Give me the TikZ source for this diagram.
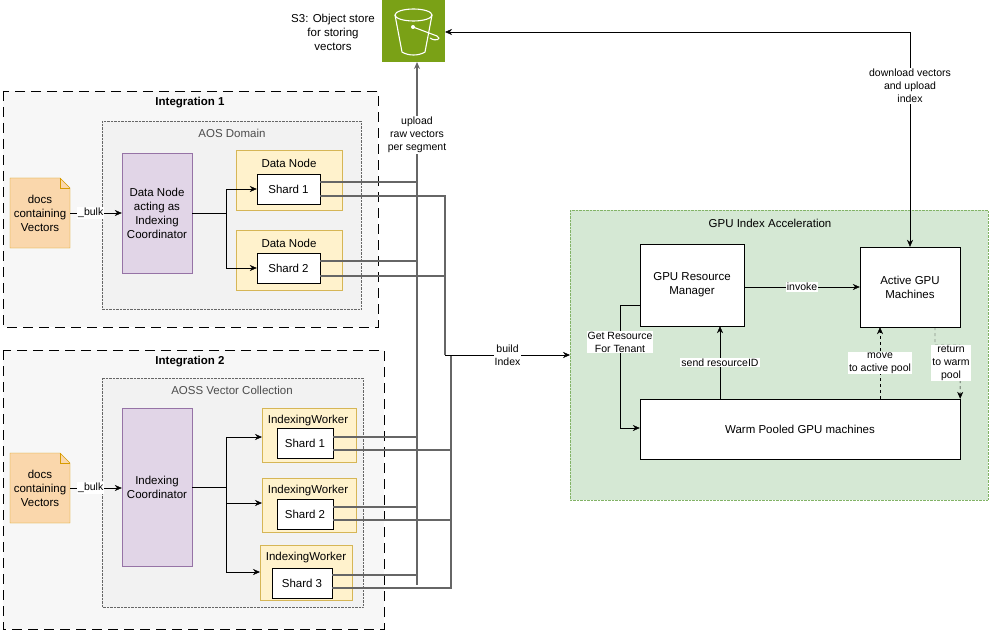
\documentclass[tikz,border=0pt]{standalone}
\usepackage{fontspec}
\setmainfont{Liberation Sans}
\usetikzlibrary{arrows.meta}
\definecolor{docf}{HTML}{FAD7AC}\definecolor{docs}{HTML}{D79B00}
\definecolor{purf}{HTML}{E1D5E7}\definecolor{purs}{HTML}{9673A6}
\definecolor{yelf}{HTML}{FFF2CC}\definecolor{yels}{HTML}{D6B656}
\definecolor{grnf}{HTML}{D5E8D4}\definecolor{grns}{HTML}{82B366}
\definecolor{s3g}{HTML}{7AA116}\definecolor{ln}{HTML}{666666}
\begin{document}
\begin{tikzpicture}[x=1pt,y=-1pt,font=\fontsize{11.5}{14}\selectfont,
  box/.style={draw,fill=white,align=center},
  lbl/.style={fill=white,inner sep=1pt,align=center,font=\fontsize{10.5}{13}\selectfont},
  arr/.style={-{Stealth[length=7pt,width=6pt]}},
  gl/.style={draw=ln,line width=1.2pt}]
\useasboundingbox (0,0) rectangle (992,631);
% integration boxes
\draw[dash pattern=on 10pt off 6pt,fill=black!3] (3,91) rectangle (378,327);
\node[font=\fontsize{11.5}{13}\selectfont\bfseries] (i1) at (190,103) {Integration 1};
\draw[densely dotted,draw=black!60,fill=black!5] (102,121) rectangle (361,309);
\node[text=black!70] (aos) at (232,133) {AOS Domain};
\draw[dash pattern=on 10pt off 6pt,fill=black!3] (3,350) rectangle (384,629);
\node[font=\fontsize{11.5}{13}\selectfont\bfseries] (i2) at (190,362) {Integration 2};
\draw[densely dotted,draw=black!60,fill=black!5] (102,378) rectangle (363,607);
\node[text=black!70] (aoss) at (232,390) {AOSS Vector Collection};
% GPU area
\draw[densely dotted,draw=grns,fill=grnf] (570,210) rectangle (988,500);
\node (gpa) at (770,223) {GPU Index Acceleration};
% S3
\fill[s3g] (382,0) rectangle (445,62);
\draw[white,line width=1.1pt] (395,15) -- (402,52) .. controls (408,56) and (419,56) .. (425,52) -- (432,15);
\draw[white,line width=1.1pt] (413.5,15) ellipse (18.5 and 6);
\draw[white,line width=1.1pt] (413,27) -- (437,36) .. controls (442,39) and (436,42) .. (430,38);
\fill[white] (413,27) circle (2);
\node (s3) at (413.5,31) {};
\node[align=center] (s3l) at (333,32) {S3: Object store\\for storing\\vectors};
% docs
\foreach \n/\y in {d1/178,d2/453}{
 \draw[docs,fill=docf] (10,\y) -- (60,\y) -- (70,\y+10) -- (70,\y+70) -- (10,\y+70) -- cycle;
 \draw[docs] (60,\y) -- (60,\y+10) -- (70,\y+10);
 \node[align=center] (\n) at (40,\y+35) {docs\\containing\\Vectors};
 \coordinate (\n r) at (70,\y+35);}
% coordinators
\node[draw=purs,fill=purf,minimum width=70pt,minimum height=120pt,align=center] (c1) at (157,213) {Data Node\\acting as\\Indexing\\Coordinator};
\node[draw=purs,fill=purf,minimum width=70pt,minimum height=158pt,align=center] (c2) at (157,487) {Indexing\\Coordinator};
% data nodes
\draw[yels,fill=yelf] (236,150) rectangle (342,210); \node (dn1) at (289,163) {Data Node};
\draw[yels,fill=yelf] (236,230) rectangle (342,290); \node (dn2) at (289,243) {Data Node};
\node[box,minimum width=63pt,minimum height=30pt] (s1) at (288.5,189) {Shard 1};
\node[box,minimum width=63pt,minimum height=30pt] (s2) at (288.5,268) {Shard 2};
\draw[yels,fill=yelf] (262,408) rectangle (356,462); \node (w1) at (308,421) {IndexingWorker};
\draw[yels,fill=yelf] (262,478) rectangle (356,532); \node (w2) at (308,491) {IndexingWorker};
\draw[yels,fill=yelf] (260,545) rectangle (352,600); \node (w3) at (306,558) {IndexingWorker};
\node[box,minimum width=56pt,minimum height=30pt] (t1) at (305,443) {Shard 1};
\node[box,minimum width=56pt,minimum height=30pt] (t2) at (305,514) {Shard 2};
\node[box,minimum width=60pt,minimum height=30pt] (t3) at (302,583) {Shard 3};
% bulk
\draw[arr] (d1r) -- node[lbl,pos=0.4]{\_bulk} (c1.west|-d1r);
\draw[arr] (d2r) -- node[lbl,pos=0.4]{\_bulk} (c2.west|-d2r);
% coordinator to shards
\draw[arr] (c1.east) -- ++(34,0) |- (s1.west);
\draw[arr] (c1.east) -- ++(34,0) |- (s2.west);
\draw[arr] (c2.east) -- ++(34,0) |- (262,437);
\draw[arr] (c2.east) -- ++(34,0) |- (262,503);
\draw[arr] (c2.east) -- ++(34,0) |- (260,572);
% upload lines
\coordinate (up) at (417,585);
\draw[gl,arr] (up) -- (417,62) node[lbl,pos=0.86,text=black]{upload\\raw vectors\\per segment};
\foreach \y/\n in {182/s1,261/s2,437/t1,507/t2,575/t3}{\draw[gl] (\n.east|-0,\y) -- (417,\y);}
% build index lines
\coordinate (bi) at (445,355);
\foreach \y/\n in {196/s1,276/s2}{\draw[gl] (\n.east|-0,\y) -- (445,\y) -- (bi);}
\foreach \y/\n in {450/t1,520/t2,588/t3}{\draw[gl] (\n.east|-0,\y) -- (451,\y) -- (451,355);}
\draw[arr] (bi) -- node[lbl]{build\\Index} (570,355);
% GPU nodes
\node[box,minimum width=104pt,minimum height=82pt] (rm) at (692,285) {GPU Resource\\Manager};
\node[box,minimum width=100pt,minimum height=80pt] (ag) at (910,287) {Active GPU\\Machines};
\node[box,minimum width=320pt,minimum height=60pt] (wp) at (800,429) {Warm Pooled GPU machines};
\draw[arr] (rm.east|-0,287) -- node[lbl]{invoke} (ag.west|-0,287);
\draw[{Stealth[length=7pt,width=6pt]}-{Stealth[length=7pt,width=6pt]}] (ag.north) -- (910,32) node[lbl,pos=0.75]{download vectors\\and upload\\index} -- (445,32);
\draw[arr,draw=black] (rm.west|-0,305) -- (620,305) -- node[lbl,pos=0.3]{Get Resource\\For Tenant} (620,428) -- (wp.west|-0,428);
\draw[arr] (wp.north-|720,0) -- node[lbl]{send resourceID} (rm.south-|720,0);
\draw[arr,dashed] (wp.north-|880,0) -- node[lbl]{move\\to active pool} (ag.south-|880,0);
\draw[arr,dashed] (ag.south-|935,0) -- (935,345) -- (960,345) -- (wp.north east);
\node[lbl] (ret) at (951,363) {return\\to warm\\pool};
\end{tikzpicture}
\end{document}
